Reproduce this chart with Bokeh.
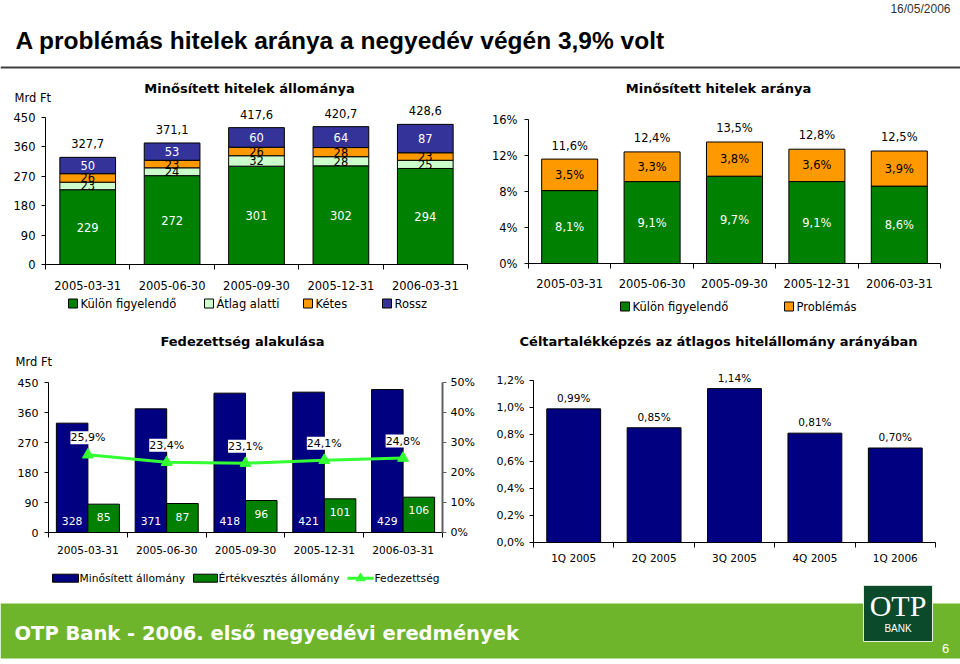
from bokeh.plotting import figure
from bokeh.models import (Range1d, FixedTicker, LinearAxis, LabelSet, ColumnDataSource)
from bokeh.layouts import column, row
from bokeh.embed import file_html
from bokeh.resources import INLINE
from bokeh.core.properties import value

# ---------------- data ----------------
SLIDE_TITLE = "A problémás hitelek aránya a negyedév végén 3,9% volt"
SLIDE_DATE = "16/05/2006"
FOOTER_TEXT = "OTP Bank - 2006. első negyedévi  eredmények"
PAGE_NO = "6"

dates = ["2005-03-31", "2005-06-30", "2005-09-30", "2005-12-31", "2006-03-31"]

# chart 1: Minősített hitelek állománya (Mrd Ft)
title1 = "Minősített hitelek állománya"
kulon = [229, 272, 301, 302, 294]
atlag = [23, 24, 32, 28, 25]
ketes = [26, 23, 26, 28, 23]
rossz = [50, 53, 60, 64, 87]
total1 = [327.7, 371.1, 417.6, 420.7, 428.6]
y1_ticks = [0, 90, 180, 270, 360, 450]
y1_labels = ["0", "90", "180", "270", "360", "450"]
series1 = ["Külön figyelendő", "Átlag alatti", "Kétes", "Rossz"]

# chart 2: Minősített hitelek aránya (%)
title2 = "Minősített hitelek aránya"
kulon_pct = [8.1, 9.1, 9.7, 9.1, 8.6]
probl_pct = [3.5, 3.3, 3.8, 3.6, 3.9]
total2 = [11.6, 12.4, 13.5, 12.8, 12.5]
y2_ticks = [0, 4, 8, 12, 16]
y2_labels = ["0%", "4%", "8%", "12%", "16%"]
series2 = ["Külön figyelendő", "Problémás"]

# chart 3: Fedezettség alakulása
title3 = "Fedezettség alakulása"
minositett = [328, 371, 418, 421, 429]
ertekv = [85, 87, 96, 101, 106]
fedez = [25.9, 23.4, 23.1, 24.1, 24.8]
y3_ticks = [0, 90, 180, 270, 360, 450]
y3_labels = ["0", "90", "180", "270", "360", "450"]
y3r_ticks = [0, 10, 20, 30, 40, 50]
y3r_labels = ["0%", "10%", "20%", "30%", "40%", "50%"]
series3 = ["Minősített állomány", "Értékvesztés állomány", "Fedezettség"]

# chart 4: Céltartalékképzés az átlagos hitelállomány arányában
title4 = "Céltartalékképzés az átlagos hitelállomány arányában"
quarters = ["1Q 2005", "2Q 2005", "3Q 2005", "4Q 2005", "1Q 2006"]
celt = [0.99, 0.85, 1.14, 0.81, 0.70]
y4_ticks = [0, 0.2, 0.4, 0.6, 0.8, 1.0, 1.2]
y4_labels = ["0,0%", "0,2%", "0,4%", "0,6%", "0,8%", "1,0%", "1,2%"]

UNIT = "Mrd Ft"

# ---------------- style ----------------
FONT = "DejaVu Sans"
GREEN = "#008000"
LIGHT = "#CCFFCC"
ORANGE = "#FF9900"
ROSSZ = "#333399"
NAVY = "#000080"
LINEG = "#33FF33"
BAND = "#6EB52C"
LOGO = "#0B4A2B"
HW = 480


def hu(v, d):
    return f"{v:.{d}f}".replace(".", ",")


def strip(w, h):
    f = figure(width=w, height=h, x_range=Range1d(0, w), y_range=Range1d(h, 0),
               min_border=0, output_backend="svg", toolbar_location=None, tools="",
               x_axis_type=None, y_axis_type=None, frame_align=False)
    f.outline_line_color = None
    f.border_fill_color = "white"
    f.background_fill_color = "white"
    return f


def chart_fig(height, ymax, left, right, bottom, n):
    p = figure(width=HW, height=height, x_range=Range1d(0, n), y_range=Range1d(0, ymax),
               min_border_left=left, min_border_right=right, min_border_top=0,
               min_border_bottom=bottom, output_backend="svg", toolbar_location=None, tools="",
               frame_align=False)
    p.outline_line_color = None
    p.grid.visible = False
    p.border_fill_color = "white"
    p.background_fill_color = "white"
    return p


def style_axes(p, xs, xlabels, xsize, xstand, yticks, ylabels, ysize, ystand):
    xa = p.xaxis[0]
    xa.ticker = FixedTicker(ticks=xs, minor_ticks=list(range(len(xlabels) + 1)))
    xa.major_label_overrides = {x: l for x, l in zip(xs, xlabels)}
    xa.major_tick_out = 0
    xa.major_tick_in = 0
    xa.minor_tick_out = 5
    xa.minor_tick_in = 0
    xa.minor_tick_line_color = "black"
    xa.axis_line_color = "black"
    xa.major_label_standoff = xstand
    xa.major_label_text_font = FONT
    xa.major_label_text_font_size = xsize
    xa.major_label_text_color = "black"
    ya = p.yaxis[0]
    ya.ticker = FixedTicker(ticks=yticks, minor_ticks=[])
    ya.major_label_overrides = {t: l for t, l in zip(yticks, ylabels)}
    ya.bounds = (yticks[0], yticks[-1])
    ya.major_tick_out = 4
    ya.major_tick_in = 0
    ya.minor_tick_out = 0
    ya.minor_tick_in = 0
    ya.major_tick_line_color = "black"
    ya.axis_line_color = "black"
    ya.major_label_standoff = ystand
    ya.major_label_text_font = FONT
    ya.major_label_text_font_size = ysize
    ya.major_label_text_color = "black"


def strip_text(f, x, y, text, bold=False, align="center", size="13px", font=FONT, color="black"):
    f.text(x=[x], y=[y], text=[text], text_font=value(font),
           text_font_style="bold" if bold else "normal", text_font_size=value(size),
           text_baseline="middle", text_align=align, text_color=color)


def legend_strip(h, entries, cy, size="11.5px", gap=3):
    f = strip(HW, h)
    for kind, color, label, x, gw, gh in entries:
        if kind == "bar":
            f.quad(left=[x], right=[x + gw], top=[cy - gh / 2], bottom=[cy + gh / 2],
                   fill_color=color, line_color="black", line_width=1)
        else:
            f.segment(x0=[x], y0=[cy], x1=[x + gw], y1=[cy], line_color=color, line_width=3)
            f.scatter(x=[x + gw / 2], y=[cy], marker="triangle", size=9,
                      fill_color=color, line_color=color)
        strip_text(f, x + gw + gap, cy, label, align="left", size=size)
    return f


def labels(p, xs, ys, texts, color, size="11.5px", y_range_name="default", bg=None):
    src = ColumnDataSource(dict(x=xs, y=ys, t=texts))
    kw = {}
    if bg is not None:
        kw = dict(background_fill_color=bg, background_fill_alpha=1.0)
    ls = LabelSet(x="x", y="y", text="t", source=src, text_align="center",
                  text_baseline="middle", text_font=value(FONT), text_font_size=size,
                  text_color=color, y_range_name=y_range_name, **kw)
    p.add_layout(ls)


n = len(dates)
xs = [i + 0.5 for i in range(n)]

# ---------------- header ----------------
hdr = strip(960, 75)
strip_text(hdr, 15, 40, SLIDE_TITLE, bold=True, align="left", size="24.5px", font="Liberation Sans")
strip_text(hdr, 950, 8, SLIDE_DATE, align="right", size="12px", font="Liberation Sans", color="#333333")
hdr.segment(x0=[0], y0=[67], x1=[960], y1=[67], line_color="#404040", line_width=2)

# ---------------- chart 1 ----------------
t1 = strip(HW, 30)
strip_text(t1, 249, 13, title1, bold=True)
strip_text(t1, 14, 22, UNIT, align="left", size="11.5px")
px1 = 147 / 450
p1 = chart_fig(187, 450 + 12 / px1, 45, 13, 28, n)
b1 = kulon
b2 = [a + b for a, b in zip(b1, atlag)]
b3 = [a + b for a, b in zip(b2, ketes)]
b4 = [a + b for a, b in zip(b3, rossz)]
bw1 = 0.66
p1.vbar(x=xs, width=bw1, bottom=0, top=b1, fill_color=GREEN, line_color="black", line_width=1)
p1.vbar(x=xs, width=bw1, bottom=b1, top=b2, fill_color=LIGHT, line_color="black", line_width=1)
p1.vbar(x=xs, width=bw1, bottom=b2, top=b3, fill_color=ORANGE, line_color="black", line_width=1)
p1.vbar(x=xs, width=bw1, bottom=b3, top=b4, fill_color=ROSSZ, line_color="black", line_width=1)
style_axes(p1, xs, dates, "11.5px", 11, y1_ticks, y1_labels, "11.5px", 6)
labels(p1, xs, [v / 2 for v in kulon], [str(v) for v in kulon], "white")
labels(p1, xs, [a + v / 2 for a, v in zip(b1, atlag)], [str(v) for v in atlag], "black")
labels(p1, xs, [a + v / 2 for a, v in zip(b2, ketes)], [str(v) for v in ketes], "black")
labels(p1, xs, [a + v / 2 for a, v in zip(b3, rossz)], [str(v) for v in rossz], "white")
labels(p1, xs, [t + 14 / px1 for t in total1], [hu(t, 1) for t in total1], "black")
l1 = legend_strip(33, [("bar", GREEN, series1[0], 68, 9, 9), ("bar", LIGHT, series1[1], 204, 9, 9),
                       ("bar", ORANGE, series1[2], 303, 9, 9), ("bar", ROSSZ, series1[3], 382, 9, 9)], 11)

# ---------------- chart 2 ----------------
t2 = strip(HW, 30)
strip_text(t2, 238, 13, title2, bold=True)
px2 = 144 / 16
p2 = chart_fig(187, 16 + 14 / px2, 48, 20, 29, n)
bw2 = 0.68
top_p = [a + b for a, b in zip(kulon_pct, probl_pct)]
p2.vbar(x=xs, width=bw2, bottom=0, top=kulon_pct, fill_color=GREEN, line_color="black", line_width=1)
p2.vbar(x=xs, width=bw2, bottom=kulon_pct, top=top_p, fill_color=ORANGE, line_color="black", line_width=1)
style_axes(p2, xs, dates, "11.5px", 10, y2_ticks, y2_labels, "11.5px", 7)
labels(p2, xs, [v / 2 for v in kulon_pct], [hu(v, 1) + "%" for v in kulon_pct], "white")
labels(p2, xs, [a + v / 2 for a, v in zip(kulon_pct, probl_pct)], [hu(v, 1) + "%" for v in probl_pct], "black")
labels(p2, xs, [t + 13.6 / px2 for t in total2], [hu(t, 1) + "%" for t in total2], "black")
l2 = legend_strip(33, [("bar", GREEN, series2[0], 140, 9, 9), ("bar", ORANGE, series2[1], 304, 9, 9)], 14)

# ---------------- chart 3 ----------------
t3 = strip(HW, 45)
strip_text(t3, 242, 16, title3, bold=True)
strip_text(t3, 15, 36, UNIT, align="left", size="11.5px")
px3 = 150 / 450
ymax3 = 450 + 12 / px3
p3 = chart_fig(196, ymax3, 48, 38, 34, n)
p3.extra_y_ranges = {"pct": Range1d(0, ymax3 * 50 / 450)}
p3.vbar(x=[x - 0.2 for x in xs], width=0.4, bottom=0, top=minositett, fill_color=NAVY,
        line_color="black", line_width=1)
p3.vbar(x=[x + 0.2 for x in xs], width=0.4, bottom=0, top=ertekv, fill_color=GREEN,
        line_color="black", line_width=1)
p3.line(x=xs, y=fedez, y_range_name="pct", line_color=LINEG, line_width=3)
p3.scatter(x=xs, y=fedez, y_range_name="pct", marker="triangle", size=11,
           fill_color=LINEG, line_color=LINEG)
style_axes(p3, xs, dates, "10.6px", 8, y3_ticks, y3_labels, "11px", 6)
ra = LinearAxis(y_range_name="pct")
ra.ticker = FixedTicker(ticks=y3r_ticks, minor_ticks=[])
ra.major_label_overrides = {t: l for t, l in zip(y3r_ticks, y3r_labels)}
ra.bounds = (y3r_ticks[0], y3r_ticks[-1])
ra.major_tick_out = 4
ra.major_tick_in = 0
ra.minor_tick_out = 0
ra.minor_tick_in = 0
ra.axis_line_color = "#606060"
ra.axis_line_width = 2
ra.major_tick_line_color = "#606060"
ra.major_label_standoff = 4
ra.major_label_text_font = FONT
ra.major_label_text_font_size = "11px"
ra.major_label_text_color = "black"
p3.add_layout(ra, "right")
labels(p3, [x - 0.2 for x in xs], [12 / px3 for _ in minositett], [str(v) for v in minositett], "white",
       size="10.8px")
labels(p3, [x + 0.2 for x in xs], [v - 13 / px3 for v in ertekv], [str(v) for v in ertekv], "white",
       size="10.8px")
labels(p3, xs, [v + 17 / 3 for v in fedez], [hu(v, 1) + "%" for v in fedez], "black",
       size="11px", y_range_name="pct", bg="white")
l3 = legend_strip(19, [("bar", NAVY, series3[0], 52, 26, 8), ("bar", GREEN, series3[1], 193, 24, 8),
                       ("line", LINEG, series3[2], 347, 26, 12)], 11.7, size="10.7px", gap=1)

# ---------------- chart 4 ----------------
t4 = strip(HW, 45)
strip_text(t4, 238, 16, title4, bold=True)
px4 = 161.7 / 1.2
p4 = chart_fig(215, 1.2 + 10 / px4, 53, 25, 43, n)
p4.vbar(x=xs, width=0.67, bottom=0, top=celt, fill_color=NAVY, line_color="black", line_width=1)
style_axes(p4, xs, quarters, "10.5px", 4, y4_ticks, y4_labels, "11px", 5)
labels(p4, xs, [v + 11 / px4 for v in celt], [hu(v, 2) + "%" for v in celt], "black", size="10.5px")

# ---------------- footer ----------------
ftr = strip(960, 79)
ftr.quad(left=[0], right=[960], top=[18], bottom=[73], fill_color=BAND, line_color=None)
strip_text(ftr, 14, 48, FOOTER_TEXT, bold=True, align="left", size="19.5px", font="DejaVu Sans", color="white")
ftr.quad(left=[863], right=[932], top=[0], bottom=[56], fill_color=LOGO, line_color="#e8f0e0", line_width=1)
strip_text(ftr, 897.5, 20, "OTP", size="30px", font="Liberation Serif", color="white")
strip_text(ftr, 897.5, 43, "BANK", size="10px", font="Liberation Sans", color="white")
strip_text(ftr, 945, 63, PAGE_NO, size="13px", font="Liberation Sans", color="white")

layout = column(hdr, row(column(t1, p1, l1), column(t2, p2, l2)),
                row(column(t3, p3, l3), column(t4, p4)), ftr)
open("out.html", "w").write(file_html(layout, INLINE))
